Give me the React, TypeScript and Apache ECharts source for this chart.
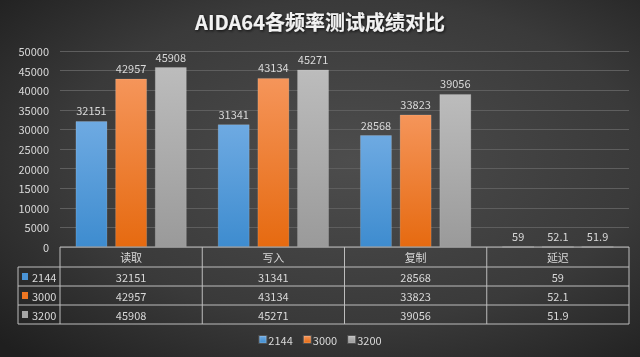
import React, { useEffect, useRef } from "react";
import * as echarts from "echarts";

const categories = ["读取", "写入", "复制", "延迟"];
const seriesNames = ["2144", "3000", "3200"];
const s2144 = [32151, 31341, 28568, 59];
const s3000 = [42957, 43134, 33823, 52.1];
const s3200 = [45908, 45271, 39056, 51.9];
const yTicks = { min: 0, max: 50000, interval: 5000 };

const FONT = "'Noto Sans CJK SC', 'Noto Sans', sans-serif";
const TXT = "#d9d9d9";
const LINE = "#bdbdbd";

const gradients = [
  ["#6eaae2", "#3e8ccf"],
  ["#f5955a", "#e66a10"],
  ["#bcbcbc", "#9a9a9a"],
];
const solid = ["#4a94d6", "#ee7622", "#a5a5a5"];

export default function App() {
  const ref = useRef<HTMLDivElement>(null);
  useEffect(() => {
    const chart = echarts.init(ref.current!, null, { renderer: "svg" });
    const dataSets = [s2144, s3000, s3200];
    const option: any = {
      animation: false,
      backgroundColor: new echarts.graphic.RadialGradient(0.55, 0.45, 0.75, [
        { offset: 0, color: "#4d4d4d" },
        { offset: 0.6, color: "#3a3a3a" },
        { offset: 1, color: "#1f1f1f" },
      ]),
      textStyle: { fontFamily: FONT },
      title: {
        text: "AIDA64各频率测试成绩对比",
        left: "center",
        top: 6,
        textStyle: {
          color: "#f2f2f2",
          fontSize: 20,
          fontWeight: "bold",
          fontFamily: FONT,
          textShadowColor: "rgba(0,0,0,0.8)",
          textShadowBlur: 3,
          textShadowOffsetX: 1,
          textShadowOffsetY: 1,
        },
      },
      legend: {
        data: seriesNames,
        bottom: 7,
        left: "center",
        itemWidth: 7,
        itemHeight: 7,
        itemGap: 10,
        icon: "rect",
        textStyle: { color: TXT, fontSize: 11, fontFamily: FONT, padding: [0, 0, 0, -3] },
      },
      grid: { left: 60, right: 11, top: 51, bottom: 110, containLabel: false },
      xAxis: {
        type: "category",
        data: categories,
        axisLine: { show: false },
        axisTick: { show: false },
        axisLabel: { show: false },
      },
      yAxis: {
        type: "value",
        min: yTicks.min,
        max: yTicks.max,
        interval: yTicks.interval,
        axisLine: { show: false },
        axisTick: { show: false },
        axisLabel: {
          color: TXT,
          fontSize: 11,
          margin: 11,
          fontFamily: FONT,
          formatter: (v: number) => String(v),
        },
        splitLine: { lineStyle: { color: "#5e5e5e", width: 1 } },
      },
      series: seriesNames.map((name, i) => ({
        name,
        type: "bar",
        data: dataSets[i],
        barWidth: 32,
        barGap: "24%",
        itemStyle: {
          color: new echarts.graphic.LinearGradient(0, 0, 0, 1, [
            { offset: 0, color: gradients[i][0] },
            { offset: 1, color: gradients[i][1] },
          ]),
          borderColor: "rgba(255,255,255,0.15)",
          borderWidth: 1,
        },
        label: {
          show: true,
          position: "top",
          distance: 5,
          color: TXT,
          fontSize: 11,
          fontFamily: FONT,
        },
      })),
      color: solid,
    };
    chart.setOption(option);

    // Build the data table from the axis scale
    const c0 = chart.convertToPixel({ xAxisIndex: 0 }, categories[0]) as number;
    const c1 = chart.convertToPixel({ xAxisIndex: 0 }, categories[1]) as number;
    const bw = c1 - c0;
    const y0 = chart.convertToPixel({ yAxisIndex: 0 }, 0) as number;
    const left = c0 - bw / 2;
    const right = left + bw * categories.length;
    const tableLeft = 18;
    const headerH = 20;
    const rowH = 19;
    const els: any[] = [];
    const line = (x1: number, y1: number, x2: number, y2: number) =>
      els.push({
        type: "line",
        silent: true,
        shape: { x1, y1, x2, y2 },
        style: { stroke: LINE, lineWidth: 1 },
      });
    const text = (t: string, x: number, y: number, align = "center") =>
      els.push({
        type: "text",
        silent: true,
        x,
        y,
        style: {
          text: t,
          fill: TXT,
          fontSize: 11,
          fontFamily: FONT,
          align,
          verticalAlign: "middle",
        },
      });
    const bottomY = y0 + headerH + rowH * seriesNames.length;
    line(left, y0, right, y0);
    for (let r = 0; r <= seriesNames.length; r++) {
      const y = y0 + headerH + rowH * r;
      line(tableLeft, y, right, y);
    }
    line(tableLeft, y0 + headerH, tableLeft, bottomY);
    for (let c = 0; c <= categories.length; c++) {
      const x = left + bw * c;
      line(x, y0, x, bottomY);
    }
    categories.forEach((cat, c) => {
      const cx = chart.convertToPixel({ xAxisIndex: 0 }, cat) as number;
      text(cat, cx, y0 + headerH / 2);
      dataSets.forEach((ds, r) => {
        text(String(ds[c]), cx, y0 + headerH + rowH * r + rowH / 2);
      });
    });
    seriesNames.forEach((n, r) => {
      const cy = y0 + headerH + rowH * r + rowH / 2;
      els.push({
        type: "rect",
        silent: true,
        shape: { x: tableLeft + 4, y: cy - 3.5, width: 6, height: 7 },
        style: { fill: solid[r] },
      });
      text(n, tableLeft + 14, cy, "left");
    });
    chart.setOption({ graphic: els });

    return () => chart.dispose();
  }, []);
  return (
    <div
      ref={ref}
      style={{ position: "fixed", left: 0, top: 0, width: 640, height: 357 }}
    />
  );
}
